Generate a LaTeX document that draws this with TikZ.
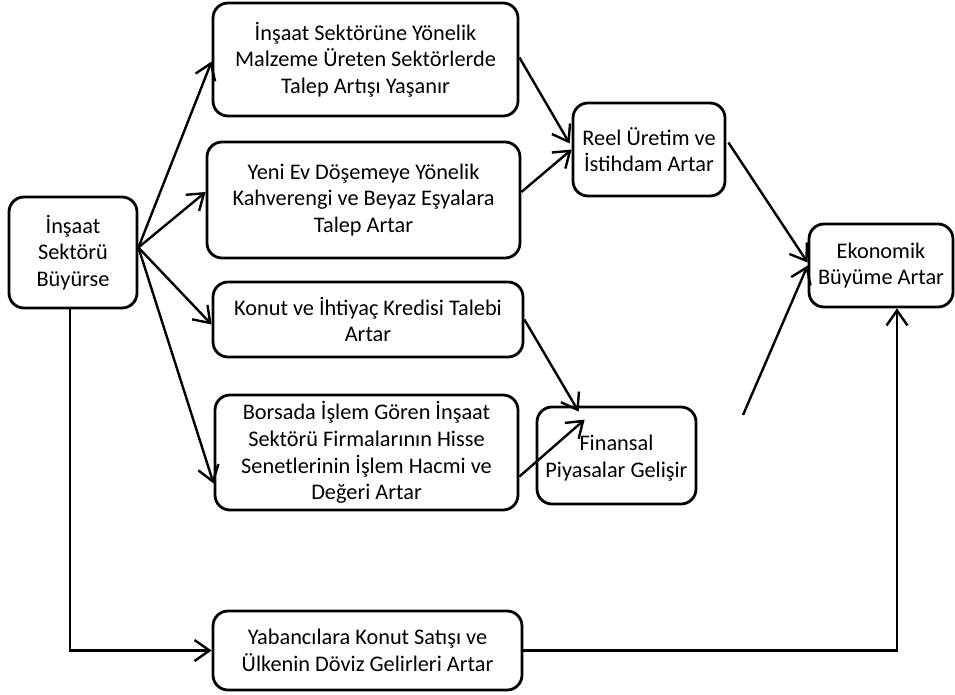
\documentclass[tikz,border=0pt]{standalone}
\usepackage{fontspec}
\setmainfont{Carlito}
\usetikzlibrary{arrows.meta,calc}
\begin{document}
\begin{tikzpicture}[x=1pt,y=-1pt,
  box/.style={draw, line width=2.8pt, rounded corners=15pt, align=center, inner sep=0pt,
    font=\fontsize{22.3}{26.7}\selectfont},
  conn/.style={line width=2.4pt, -{Straight Barb[length=15pt,width=21pt]}}]
\useasboundingbox (0,0) rectangle (955,694);
\node[box, minimum width=128pt, minimum height=111pt] (A) at (73,252.5) {İnşaat\\Sektörü\\Büyürse};
\node[box, minimum width=305pt, minimum height=113pt] (B1) at (365.5,59.5) {İnşaat Sektörüne Yönelik\\Malzeme Üreten Sektörlerde\\Talep Artışı Yaşanır};
\node[box, minimum width=313pt, minimum height=116pt] (B2) at (363.5,200) {Yeni Ev Döşemeye Yönelik\\Kahverengi ve Beyaz Eşyalara\\Talep Artar};
\node[box, minimum width=310pt, minimum height=75pt] (B3) at (368,319.5) {Konut ve İhtiyaç Kredisi Talebi\\Artar};
\node[box, minimum width=303pt, minimum height=115pt] (B4) at (366.5,452.5) {Borsada İşlem Gören İnşaat\\Sektörü Firmalarının Hisse\\Senetlerinin İşlem Hacmi ve\\Değeri Artar};
\node[box, minimum width=309pt, minimum height=79pt] (Y) at (367.5,650.5) {Yabancılara Konut Satışı ve\\Ülkenin Döviz Gelirleri Artar};
\node[box, minimum width=152pt, minimum height=93pt] (R) at (649,149.5) {Reel Üretim ve\\İstihdam Artar};
\node[box, minimum width=159pt, minimum height=97pt] (F) at (616.5,455.5) {\\[-6pt]Finansal\\Piyasalar Gelişir};
\node[box, minimum width=144pt, minimum height=83pt] (E) at (881,265.5) {Ekonomik\\Büyüme Artar};
\coordinate (D) at (743,415);

\draw[conn] ($(A.east)+(0,-5)$) -- ($(B1.west)+(0,2)$);
\draw[conn] ($(A.east)+(0,-5)$) -- ($(B2.west)+(0,-8)$);
\draw[conn] ($(A.east)+(0,-5)$) -- ($(B3.west)+(0,5)$);
\draw[conn] ($(A.east)+(0,-5)$) -- ($(B4.west)+(0,31)$);
\draw[conn] ($(B1.east)+(0,-2)$) -- ($(R.west)+(-2,-6)$);
\draw[conn] ($(B2.east)+(0,-8)$) -- (R.west);
\draw[conn] ($(R.east)+(2,-7)$) -- ($(E.west)+(0,-3)$);
\draw[conn] (D) -- (E.west);
\draw[conn] (B3.east) -- ($(F.north west)+(43,6)$);
\draw[conn] ($(B4.east)+(0,24)$) -- ($(F.north west)+(49,14)$);
\draw[conn] ($(A.south)+(-3,0)$) |- (Y.west);
\draw[conn] (Y.east) -| ($(E.south)+(16,0)$);
\end{tikzpicture}
\end{document}
